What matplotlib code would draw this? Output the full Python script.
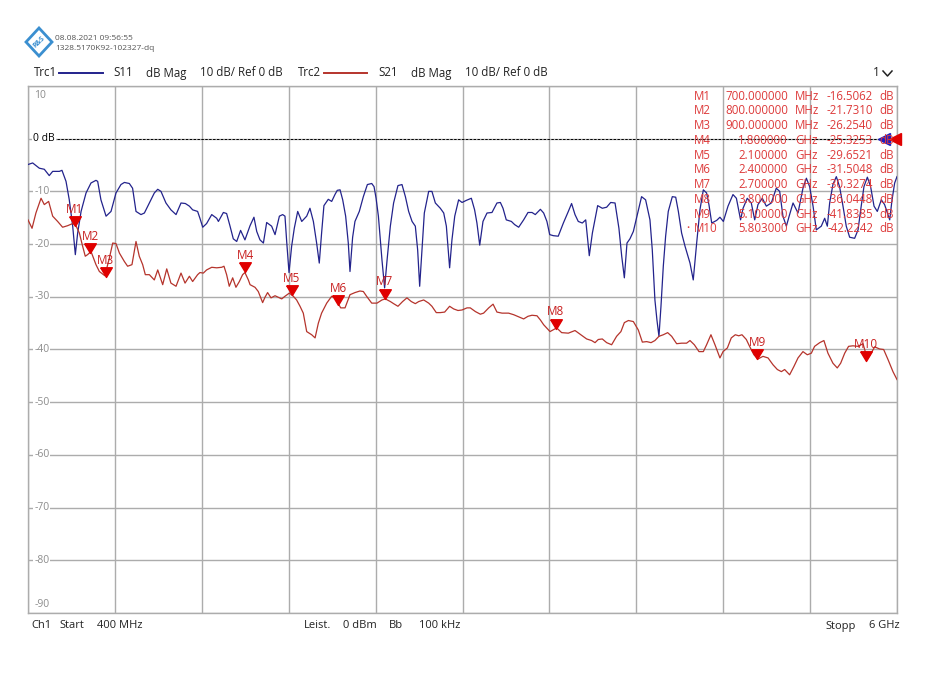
import numpy as np
import matplotlib.pyplot as plt
from matplotlib.patches import Polygon
from matplotlib.transforms import blended_transform_factory

plt.rcParams['font.family'] = ['Open Sans', 'DejaVu Sans']

# trace data (freq in MHz, level in dB)
s11_freq = [400, 430, 473, 505, 537, 559, 602, 619, 645, 666, 688, 705, 720, 742, 774, 806, 838, 849,
            870, 903, 935, 967, 999, 1021, 1053, 1074, 1096, 1128, 1150, 1182, 1214, 1236, 1257, 1289,
            1321, 1354, 1386, 1414, 1440, 1461, 1493, 1508, 1526, 1551, 1584, 1616, 1627, 1659, 1680,
            1702, 1723, 1745, 1770, 1798, 1831, 1856, 1874, 1895, 1917, 1938, 1970, 1992, 2020, 2041,
            2056, 2067, 2082, 2099, 2116, 2138, 2164, 2196, 2217, 2239, 2260, 2277, 2292, 2307, 2335,
            2357, 2378, 2393, 2411, 2428, 2447, 2464, 2475, 2492, 2507, 2535, 2561, 2587, 2615, 2630,
            2643, 2658, 2681, 2698, 2714, 2735, 2756, 2784, 2810, 2832, 2853, 2875, 2896, 2911, 2924,
            2939, 2954, 2982, 3003, 3025, 3057, 3079, 3096, 3117, 3132, 3150, 3175, 3197, 3225, 3257,
            3278, 3293, 3311, 3332, 3358, 3390, 3422, 3444, 3461, 3482, 3515, 3536, 3562, 3594, 3622,
            3648, 3669, 3702, 3723, 3744, 3762, 3785, 3817, 3850, 3882, 3903, 3925, 3946, 3972, 3994,
            4017, 4037, 4071, 4101, 4129, 4155, 4183, 4208, 4226, 4243, 4260, 4279, 4301, 4329, 4354,
            4380, 4408, 4423, 4440, 4453, 4466, 4479, 4494, 4509, 4526, 4552, 4574, 4591, 4612, 4634,
            4666, 4687, 4709, 4730, 4752, 4773, 4788, 4806, 4838, 4859, 4881, 4911, 4943, 4965, 4992,
            5008, 5035, 5061, 5083, 5104, 5132, 5158, 5190, 5222, 5244, 5265, 5287, 5308, 5330, 5362,
            5394, 5416, 5437, 5459, 5480, 5512, 5534, 5551, 5566, 5587, 5609, 5630, 5652, 5673, 5695,
            5727, 5749, 5766, 5787, 5809, 5830, 5852, 5873, 5899, 5920, 5938, 5953, 5968, 5985, 6000]
s11_db = [-4.9, -4.6, -5.6, -5.8, -7.0, -6.2, -6.2, -6.0, -8.1, -11.6, -16.6, -22.0, -17.9, -13.8, -10.3,
          -8.4, -7.9, -8.1, -11.6, -14.7, -13.8, -10.3, -8.7, -8.3, -8.5, -9.4, -13.8, -14.4, -14.1,
          -12.2, -10.3, -9.6, -10.0, -12.2, -13.5, -14.4, -12.2, -12.3, -12.8, -13.5, -13.8, -15.1,
          -16.8, -16.1, -14.4, -15.1, -15.7, -14.0, -14.2, -16.6, -19.0, -19.5, -17.4, -19.2, -16.5,
          -14.9, -17.6, -19.2, -19.8, -15.9, -16.6, -18.2, -14.7, -14.4, -14.7, -19.5, -25.4, -20.4,
          -17.0, -13.8, -15.7, -14.7, -13.2, -15.7, -19.8, -23.6, -17.9, -12.7, -11.5, -11.9, -10.6,
          -9.8, -9.7, -11.6, -14.7, -19.8, -25.2, -18.7, -15.7, -13.8, -11.0, -8.7, -8.5, -9.1, -11.3,
          -14.7, -23.0, -28.3, -23.0, -16.6, -12.2, -8.9, -8.7, -11.0, -13.8, -15.7, -16.6, -21.1,
          -28.0, -21.1, -14.1, -10.0, -10.0, -12.2, -13.2, -14.1, -16.6, -24.5, -19.2, -14.7, -11.6,
          -12.1, -11.7, -11.3, -13.5, -16.0, -20.2, -15.7, -14.1, -14.0, -12.2, -12.1, -13.2, -15.4,
          -15.7, -16.3, -16.8, -15.4, -14.0, -14.0, -14.4, -13.4, -14.1, -15.7, -18.2, -18.4, -18.5,
          -16.0, -13.8, -12.3, -14.4, -15.7, -16.0, -15.4, -22.2, -17.9, -12.7, -13.2, -13.0, -12.1,
          -12.2, -17.0, -22.3, -26.4, -19.8, -19.0, -17.6, -14.1, -11.0, -11.6, -15.4, -21.1, -30.6,
          -34.4, -37.5, -31.8, -24.2, -18.5, -13.8, -11.0, -11.1, -13.8, -17.9, -20.4, -23.6, -26.8,
          -19.8, -13.5, -9.7, -10.3, -12.5, -16.0, -15.5, -14.9, -15.7, -12.8, -10.6, -11.3, -15.4,
          -13.2, -11.3, -12.2, -15.4, -12.5, -11.3, -12.8, -12.2, -9.4, -10.0, -14.7, -16.6, -14.4,
          -12.2, -14.1, -9.4, -7.5, -9.1, -12.8, -17.3, -16.6, -15.1, -16.6, -12.2, -8.7, -7.2, -9.1,
          -12.8, -16.6, -18.7, -18.9, -17.3, -13.5, -9.1, -7.3, -9.1, -12.8, -13.8, -11.6, -12.5,
          -14.1, -15.4, -11.6, -8.4, -7.2]

s21_freq = [400, 426, 451, 484, 505, 533, 559, 591, 623, 656, 688, 709, 731, 752, 769, 784, 806, 838,
            860, 895, 924, 946, 967, 989, 1021, 1042, 1070, 1096, 1117, 1139, 1156, 1182, 1214, 1236,
            1268, 1294, 1321, 1354, 1386, 1412, 1440, 1461, 1493, 1508, 1530, 1551, 1584, 1616, 1648,
            1663, 1680, 1697, 1719, 1740, 1762, 1783, 1798, 1820, 1831, 1863, 1884, 1912, 1927, 1944,
            1966, 1992, 2013, 2035, 2056, 2084, 2110, 2131, 2153, 2174, 2196, 2228, 2250, 2271, 2292,
            2325, 2357, 2378, 2396, 2415, 2443, 2475, 2507, 2539, 2561, 2582, 2615, 2649, 2681, 2703,
            2735, 2756, 2784, 2814, 2842, 2870, 2896, 2918, 2950, 2982, 3003, 3031, 3057, 3085, 3117,
            3143, 3171, 3197, 3229, 3250, 3283, 3315, 3336, 3369, 3397, 3422, 3455, 3497, 3530, 3562,
            3594, 3622, 3648, 3680, 3702, 3723, 3764, 3807, 3839, 3882, 3925, 3963, 4000, 4032, 4054,
            4075, 4101, 4129, 4161, 4193, 4221, 4243, 4269, 4301, 4333, 4359, 4387, 4415, 4440, 4466,
            4494, 4522, 4548, 4580, 4612, 4644, 4666, 4694, 4724, 4752, 4773, 4801, 4827, 4859, 4879,
            4907, 4932, 4958, 4980, 5001, 5029, 5050, 5078, 5104, 5136, 5169, 5201, 5229, 5255, 5276,
            5308, 5336, 5362, 5394, 5422, 5448, 5469, 5502, 5529, 5555, 5587, 5615, 5637, 5663, 5688,
            5716, 5749, 5781, 5809, 5839, 5856, 5888, 5914, 5942, 5974, 6000]
s21_db = [-15.4, -17.0, -14.1, -11.3, -12.5, -11.9, -14.7, -15.7, -16.8, -16.5, -16.1, -16.5, -17.9,
          -20.4, -22.3, -22.0, -21.4, -23.9, -25.2, -26.0, -22.7, -19.8, -19.9, -21.7, -23.3, -24.2,
          -23.9, -19.5, -22.3, -23.9, -25.8, -25.8, -26.8, -24.9, -27.7, -24.7, -27.4, -28.0, -25.5,
          -27.4, -26.1, -27.1, -25.8, -25.4, -25.5, -24.9, -24.4, -24.5, -24.4, -24.2, -25.8, -28.0,
          -26.4, -28.2, -27.1, -25.8, -25.4, -26.8, -27.7, -28.2, -29.0, -31.1, -30.1, -29.2, -30.2,
          -29.8, -30.1, -30.4, -29.9, -29.3, -29.9, -30.6, -31.8, -33.1, -36.6, -37.2, -37.8, -35.0,
          -33.1, -31.2, -29.9, -30.2, -31.1, -32.1, -32.1, -29.6, -29.2, -28.9, -29.0, -29.9, -31.2,
          -31.2, -30.6, -30.4, -30.9, -31.3, -31.8, -30.9, -30.2, -30.9, -31.3, -30.9, -30.6, -31.2,
          -31.8, -33.0, -33.0, -32.9, -31.8, -32.3, -32.6, -32.5, -32.1, -32.1, -32.8, -33.3, -33.1,
          -32.1, -31.4, -32.9, -33.1, -33.1, -33.4, -33.8, -34.2, -33.7, -33.5, -33.6, -34.4, -35.3,
          -36.6, -35.9, -36.8, -36.9, -36.4, -37.2, -38.0, -38.3, -38.7, -38.1, -38.0, -38.7, -39.1,
          -37.5, -36.6, -34.9, -34.5, -34.7, -36.3, -38.6, -38.5, -38.7, -38.3, -37.5, -37.2, -36.8,
          -37.5, -38.9, -38.8, -38.8, -38.3, -39.1, -40.4, -40.4, -39.1, -37.2, -39.1, -41.6, -40.4,
          -39.7, -37.8, -37.2, -37.4, -37.2, -38.1, -39.4, -41.0, -41.8, -41.3, -41.6, -42.9, -43.8,
          -44.2, -43.8, -44.8, -43.2, -41.6, -40.4, -41.0, -40.7, -39.4, -38.7, -38.3, -40.7, -42.6,
          -43.5, -42.6, -40.7, -39.4, -39.3, -39.4, -38.9, -41.8, -40.4, -39.5, -39.9, -40.0, -41.9,
          -44.2, -45.7]

# markers on S21 (freq in MHz, level in dB)
marker_names = ['M1', 'M2', 'M3', 'M4', 'M5', 'M6', 'M7', 'M8', 'M9', 'M10']
marker_freq = [700.0, 800.0, 900.0, 1800.0, 2100.0, 2400.0, 2700.0, 3800.0, 5100.0, 5803.0]
marker_db = [-16.5062, -21.7310, -26.2540, -25.3253, -29.6521, -31.5048, -30.3274, -36.0448,
             -41.8385, -42.2242]

f_start, f_stop = 400, 6000
y_ticks = list(range(-90, 11, 10))

W, H = 950, 673
BLUE = '#23238c'
RED = '#b5342c'
MRED = '#e00000'
TRED = '#dd3a3a'
GRID = '#acacac'


def px(x, y):
    # pixel position on the screen shot -> figure fraction
    return x / W, 1 - y / H


fig = plt.figure(figsize=(W / 100, H / 100), dpi=100)
ax = fig.add_axes([28 / W, 1 - 613 / H, 869 / W, 527 / H])
ax.set_xlim(f_start, f_stop)
ax.set_ylim(-90, 10)
ax.set_xticks(np.linspace(f_start, f_stop, 11))
ax.set_yticks(y_ticks)
ax.tick_params(length=0, labelbottom=False, labelleft=False)
ax.grid(True, color=GRID, lw=1.0)
for s in ax.spines.values():
    s.set_color(GRID)
    s.set_linewidth(1.0)

# y labels sit inside the grid, left
tr = blended_transform_factory(ax.transAxes, ax.transData)
for v in y_ticks:
    if v == 0:
        continue
    va = 'center'
    yy = v
    if v == 10:
        va, yy = 'top', 9.2
    elif v == -90:
        va, yy = 'bottom', -89.4
    ax.text(0.007, yy, str(v), transform=tr, va=va, ha='left', fontsize=7.5, color='#8c8c8c',
            bbox=dict(fc='white', ec='none', pad=0.6), zorder=3)

# reference line
ax.text(0.006, 0, '0 dB', transform=tr, va='center', ha='left', fontsize=7.5, color='black',
        bbox=dict(fc='white', ec='none', pad=0.6), zorder=3)
ax.axhline(0, xmin=(57 - 28) / 869, xmax=(880 - 28) / 869, color='black', lw=0.7,
           dashes=(2.5, 1.5), zorder=6)
ax.plot([0.985], [0], marker='<', ms=8, color='#2020c0', transform=tr, clip_on=False, zorder=7)
ax.plot([0.998], [0], marker='<', ms=8, color='#e00000', transform=tr, clip_on=False, zorder=7)

# traces
ax.plot(s11_freq, s11_db, color=BLUE, lw=0.9, zorder=5)
ax.plot(s21_freq, s21_db, color=RED, lw=0.9, zorder=5)

# markers (tip on the trace point)
tri = [(-0.6, 1.0), (0.6, 1.0), (0.0, 0.0), (-0.6, 1.0)]
ax.plot(marker_freq, marker_db, ls='none', marker=tri, ms=14, color=MRED, mec=MRED, zorder=8)
for name, f, v in zip(marker_names, marker_freq, marker_db):
    ax.annotate(name, (f, v), xytext=(0, 12), textcoords='offset points', ha='center',
                va='center', fontsize=8.5, color='#c82020', zorder=8)

# marker table
row_y = np.linspace(96, 229, len(marker_names))
for i, (name, f, v) in enumerate(zip(marker_names, marker_freq, marker_db)):
    y = row_y[i]
    if f < 1000:
        fs, unit = f'{f:.6f}', 'MHz'
    else:
        fs, unit = f'{f / 1000:.6f}', 'GHz'
    fig.text(*px(694, y), name, ha='left', va='center', fontsize=8.3, color=TRED, zorder=4)
    fig.text(*px(788, y), fs, ha='right', va='center', fontsize=8.3, color=TRED, zorder=4)
    fig.text(*px(795, y), unit, ha='left', va='center', fontsize=8.3, color=TRED, zorder=4)
    fig.text(*px(873, y), f'{v:.4f}', ha='right', va='center', fontsize=8.3, color=TRED, zorder=4)
    fig.text(*px(879, y), 'dB', ha='left', va='center', fontsize=8.3, color=TRED, zorder=4)
fig.text(*px(686, row_y[-1]), '•', ha='left', va='center', fontsize=6, color=TRED)

# header: logo, stamp, trace legend
logo = Polygon([px(39, 28), px(52, 42), px(39, 56), px(26, 42)], closed=True, fill=False,
               ec='#3b8fd0', lw=2.0, transform=fig.transFigure)
fig.patches.append(logo)
fig.text(*px(39, 42), 'R&S', ha='center', va='center', fontsize=5, color='#3b8fd0',
         rotation=45, weight='bold')
fig.text(*px(55, 38), '08.08.2021 09:56:55', ha='left', va='center', fontsize=6, color='#555555')
fig.text(*px(55, 48), '1328.5170K92-102327-dq', ha='left', va='center', fontsize=6,
         color='#555555')

hy = 73
for x, s in [(34, 'Trc1'), (113, 'S11'), (146, 'dB Mag'), (200, '10 dB/ Ref 0 dB'),
             (298, 'Trc2'), (378, 'S21'), (411, 'dB Mag'), (465, '10 dB/ Ref 0 dB')]:
    fig.text(*px(x, hy), s, ha='left', va='center', fontsize=8.3, color='#222222')
for x0, x1, c in [(59, 103, BLUE), (324, 367, RED)]:
    fig.add_artist(plt.Line2D([x0 / W, x1 / W], [1 - hy / H, 1 - hy / H], color=c, lw=1.4,
                              transform=fig.transFigure))
fig.text(*px(873, hy), '1', ha='left', va='center', fontsize=8.5, color='#222222')
fig.add_artist(plt.Line2D([883 / W, 887.5 / W, 892 / W], [1 - 71 / H, 1 - 76 / H, 1 - 71 / H],
                          color='#222222', lw=1.1, transform=fig.transFigure))

# footer
fy = 626
for x, s in [(31, 'Ch1'), (59, 'Start'), (97, '400 MHz'), (304, 'Leist.'), (343, '0 dBm'),
             (389, 'Bb'), (419, '100 kHz'), (825, 'Stopp'), (869, '6 GHz')]:
    fig.text(*px(x, fy), s, ha='left', va='center', fontsize=8, color='#222222')

fig.savefig('out.png', dpi=100, facecolor='white')
